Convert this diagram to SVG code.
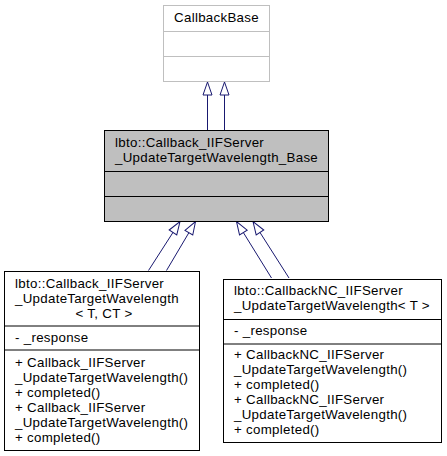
<svg xmlns="http://www.w3.org/2000/svg" width="447" height="456" viewBox="0 0 447 456">
<style>
text{font-family:"Liberation Sans",Arial,sans-serif;font-size:13.3px;letter-spacing:0.3px;fill:#000}
.box{fill:#fff;stroke:#000;stroke-width:1}
.ext{fill:#fff;stroke:#bfbfbf;stroke-width:1}
.cur{fill:#bfbfbf;stroke:#000;stroke-width:1}
.edge{fill:none;stroke:#191970;stroke-width:1;marker-end:url(#tri)}
.c{text-anchor:middle}
</style>
<defs>
<marker id="tri" markerUnits="userSpaceOnUse" markerWidth="16" markerHeight="12" refX="13" refY="5" orient="auto" viewBox="-1 0 16 10" overflow="visible">
<path d="M0,0.5 L13,5 L0,9.5 Z" fill="#fff" stroke="#191970" stroke-width="1"/>
</marker>
</defs>
<g id="connectors">
<path class="edge" d="M207.5,131 L207.5,82"/>
<path class="edge" d="M224.5,131 L224.5,82"/>
<path class="edge" d="M148.5,270.5 L180,221.5"/>
<path class="edge" d="M166.5,270.5 L195.5,221.5"/>
<path class="edge" d="M271.5,278 L236.5,221.5"/>
<path class="edge" d="M289,278 L253,221.5"/>
</g>
<g id="CallbackBase">
<rect class="ext" x="163.5" y="5.5" width="106" height="76"/>
<line class="ext" x1="163.5" y1="31.5" x2="269.5" y2="31.5"/>
<line class="ext" x1="163.5" y1="56.5" x2="269.5" y2="56.5"/>
<text class="c" x="216.5" y="22">CallbackBase</text>
</g>
<g id="Base">
<rect class="cur" x="104.5" y="130.5" width="224" height="91"/>
<line class="cur" x1="104.5" y1="171.5" x2="328.5" y2="171.5"/>
<line class="cur" x1="104.5" y1="196.5" x2="328.5" y2="196.5"/>
<text x="115" y="147">lbto::Callback_IIFServer</text>
<text x="115" y="162">_UpdateTargetWavelength_Base</text>
</g>
<g id="CallbackTCT">
<rect class="box" x="4.5" y="271.5" width="195" height="179"/>
<line class="box" x1="4.5" y1="326" x2="199.5" y2="326"/>
<line class="box" x1="4.5" y1="350" x2="199.5" y2="350"/>
<text x="15" y="287.5">lbto::Callback_IIFServer</text>
<text x="15" y="302.5">_UpdateTargetWavelength</text>
<text class="c" x="104" y="317.5">&lt; T, CT &gt;</text>
<text x="15" y="342">- _response</text>
<text x="15" y="366.5">+ Callback_IIFServer</text>
<text x="15" y="382">_UpdateTargetWavelength()</text>
<text x="15" y="397">+ completed()</text>
<text x="15" y="412">+ Callback_IIFServer</text>
<text x="15" y="427">_UpdateTargetWavelength()</text>
<text x="15" y="442">+ completed()</text>
</g>
<g id="CallbackNC">
<rect class="box" x="223.5" y="279.5" width="218" height="163"/>
<line class="box" x1="223.5" y1="319.5" x2="441.5" y2="319.5"/>
<line class="box" x1="223.5" y1="344" x2="441.5" y2="344"/>
<text x="234" y="295">lbto::CallbackNC_IIFServer</text>
<text x="234" y="310">_UpdateTargetWavelength&lt; T &gt;</text>
<text x="234" y="334.5">- _response</text>
<text x="234" y="359">+ CallbackNC_IIFServer</text>
<text x="234" y="374">_UpdateTargetWavelength()</text>
<text x="234" y="389">+ completed()</text>
<text x="234" y="404">+ CallbackNC_IIFServer</text>
<text x="234" y="419">_UpdateTargetWavelength()</text>
<text x="234" y="434">+ completed()</text>
</g>
</svg>
